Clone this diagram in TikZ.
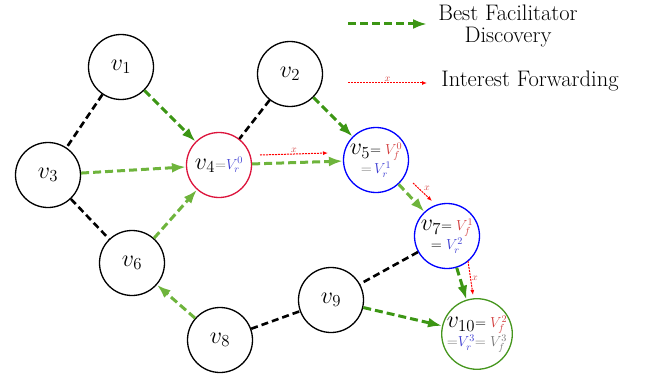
\RequirePackage{fix-cm}
\documentclass[tikz,border=0pt]{standalone}
\usetikzlibrary{arrows.meta}
\definecolor{dgreen}{RGB}{60,150,20}
\definecolor{lgreen}{RGB}{110,180,60}
\definecolor{crim}{RGB}{220,20,60}
\definecolor{fred}{RGB}{210,60,60}
\definecolor{rblue}{RGB}{60,60,210}
\definecolor{ngreen}{RGB}{70,150,30}
\definecolor{eqgray}{RGB}{120,120,120}
\newcommand{\bigv}[1]{{\fontsize{24}{24}\selectfont$#1$}}
\newcommand{\smalle}[1]{{\fontsize{14.5}{15}\selectfont$#1$}}
\begin{document}
\begin{tikzpicture}[x=1pt,y=-1pt,
  vnode/.style={circle,draw,line width=1.3pt,minimum size=65pt,inner sep=0pt,align=center},
  tie/.style={line width=2.6pt,dash pattern=on 7pt off 4pt},
  bfd/.style={line width=3pt,dash pattern=on 8pt off 4pt,-{Latex[length=14pt,width=10pt]}},
  ifw/.style={red,line width=1pt,dash pattern=on 2pt off 1pt,-{Latex[length=5pt,width=4pt]}},
  xlab/.style={text=fred,font=\fontsize{10}{11}\selectfont,inner sep=1pt},
  legtext/.style={font=\fontsize{22.5}{22}\selectfont,align=center}
]
\useasboundingbox (0,0) rectangle (652,377);

% nodes
\node[vnode] (v1) at (121,67) {\bigv{v_1}};
\node[vnode] (v2) at (290,74) {\bigv{v_2}};
\node[vnode] (v3) at (48,175) {\bigv{v_3}};
\node[vnode,draw=crim] (v4) at (219,165) {\bigv{v_4}\smalle{\textcolor{eqgray}{=}\textcolor{rblue}{V_r^0}}};
\node[vnode,draw=blue] (v5) at (376,160) {\bigv{v_5}\smalle{=\textcolor{fred}{V_f^0}}\\[1pt] \smalle{\textcolor{eqgray}{=}\,\textcolor{rblue}{V_r^1}}};
\node[vnode] (v6) at (132,263) {\bigv{v_6}};
\node[vnode,draw=blue] (v7) at (447,236) {\bigv{v_7}\smalle{=\textcolor{fred}{V_f^1}}\\[1pt] \smalle{=\textcolor{rblue}{V_r^2}}};
\node[vnode] (v8) at (220,340) {\bigv{v_8}};
\node[vnode] (v9) at (331,300) {\bigv{v_9}};
\node[vnode,draw=ngreen] (v10) at (477,334) {\bigv{v_{10}}\smalle{=\textcolor{fred}{V_f^2}}\\[1pt] \smalle{\textcolor{eqgray}{=}\textcolor{rblue}{V_r^3}\textcolor{eqgray}{=V_f^3}}};

% black ties
\draw[tie] (v1) -- (v3);
\draw[tie] (v3) -- (v6);
\draw[tie] (v2) -- (v4);
\draw[tie] (v7) -- (v9);
\draw[tie] (v8) -- (v9);

% best facilitator discovery
\draw[bfd,dgreen] (v1) -- (v4);
\draw[bfd,lgreen] (v3) -- (v4);
\draw[bfd,lgreen] (v6) -- (v4);
\draw[bfd,lgreen] (v4) -- (v5);
\draw[bfd,dgreen] (v2) -- (v5);
\draw[bfd,lgreen] (v5) -- (v7);
\draw[bfd,dgreen] (v7) -- (v10);
\draw[bfd,dgreen] (v9) -- (v10);
\draw[bfd,lgreen] (v8) -- (v6);

% interest forwarding
\coordinate (r1s) at (260,155);
\coordinate (r1e) at (328,153);
\draw[ifw] (r1s) -- node[xlab,above] {$x$} (r1e);
\coordinate (r2s) at (413,183);
\coordinate (r2e) at (432,201);
\draw[ifw] (r2s) -- node[xlab,above right] {$x$} (r2e);
\coordinate (r3s) at (468,261);
\coordinate (r3e) at (473,295);
\draw[ifw] (r3s) -- node[xlab,right] {$x$} (r3e);

% legend
\coordinate (lg1s) at (348,24);
\coordinate (lg1e) at (427,24);
\draw[bfd,dgreen] (lg1s) -- (lg1e);
\node[legtext] (lt1) at (508,26) {Best Facilitator\\Discovery};
\coordinate (lg2s) at (348,83);
\coordinate (lg2e) at (427,83);
\draw[ifw] (lg2s) -- node[xlab,above] {$x$} (lg2e);
\node[legtext,anchor=base] (lt2) at (530,87) {Interest Forwarding};
\end{tikzpicture}
\end{document}
